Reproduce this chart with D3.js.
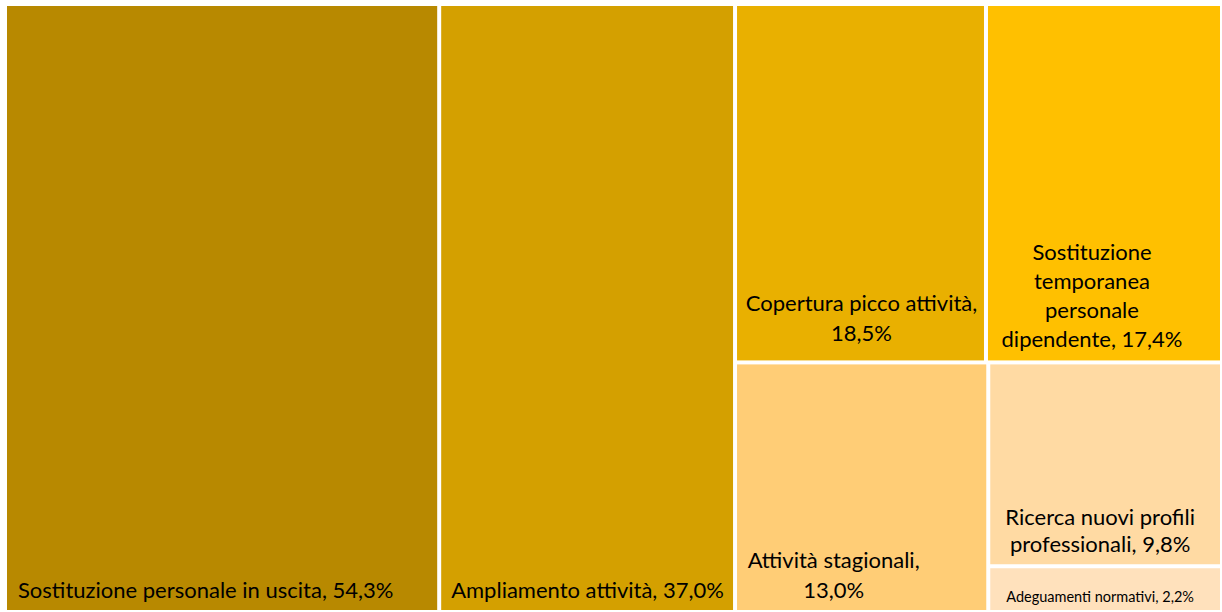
<!DOCTYPE html>
<html>
<head>
<meta charset="utf-8">
<script src="https://cdn.jsdelivr.net/npm/d3@7"></script>
<style>
  html, body { margin: 0; padding: 0; background: #ffffff; }
  svg { display: block; }
  text { font-family: Lato, "Open Sans", sans-serif; fill: #000; }
</style>
</head>
<body>
<svg id="chart" width="1222" height="612"></svg>
<script>
// ---- data ----
const categories = [
  "Sostituzione personale in uscita",
  "Ampliamento attività",
  "Copertura picco attività",
  "Sostituzione temporanea personale dipendente",
  "Attività stagionali",
  "Ricerca nuovi profili professionali",
  "Adeguamenti normativi"
];
const values = [54.3, 37.0, 18.5, 17.4, 13.0, 9.8, 2.2];
const labelLines = [
  ["Sostituzione personale in uscita, 54,3%"],
  ["Ampliamento attività, 37,0%"],
  ["Copertura picco attività,", "18,5%"],
  ["Sostituzione", "temporanea", "personale", "dipendente, 17,4%"],
  ["Attività stagionali,", "13,0%"],
  ["Ricerca nuovi profili", "professionali, 9,8%"],
  ["Adeguamenti normativi, 2,2%"]
];
const colors = ["#B88900", "#D4A000", "#E9B000", "#FFC000", "#FFCD76", "#FFDAA3", "#FFE1BC"];

// grouping structure (indices into categories)
const structure = [0, 1, [[2, 3], [4, [5, 6]]]];

// ---- label styling (layout, not data) ----
const labelStyle = [
  { anchor: "start",  dx: 11,  dy: 12, size: 22,   lh: 30 },
  { anchor: "start",  dx: 10,  dy: 12, size: 22,   lh: 30 },
  { anchor: "middle", dx: 1,   dy: 19, size: 22,   lh: 30 },
  { anchor: "middle", dx: -12, dy: 13, size: 22,   lh: 29.3 },
  { anchor: "middle", dx: -28, dy: 12, size: 22,   lh: 30 },
  { anchor: "middle", dx: -5,  dy: 12, size: 22,   lh: 27.5 },
  { anchor: "middle", dx: -5,  dy: 8,  size: 14.5, lh: 16 }
];

function build(s) {
  if (Array.isArray(s)) return { children: s.map(build) };
  return { idx: s, name: categories[s], value: values[s] };
}

const root = d3.hierarchy(build(structure))
  .sum(d => d.value || 0);

d3.treemap()
  .tile(d3.treemapSliceDice)
  .size([1213, 604])
  .paddingInner(4)
  .round(false)(root);

const svg = d3.select("#chart");
const g = svg.append("g").attr("transform", "translate(7,6)");

const leaves = root.leaves();

const cell = g.selectAll("g.cell")
  .data(leaves)
  .join("g")
  .attr("class", "cell");

cell.append("rect")
  .attr("x", d => d.x0)
  .attr("y", d => d.y0)
  .attr("width", d => d.x1 - d.x0)
  .attr("height", d => d.y1 - d.y0)
  .attr("fill", d => colors[d.data.idx]);

cell.each(function(d) {
  const st = labelStyle[d.data.idx];
  const lines = labelLines[d.data.idx];
  const x = st.anchor === "start" ? d.x0 + st.dx : (d.x0 + d.x1) / 2 + st.dx;
  const lastY = d.y1 - st.dy;
  const t = d3.select(this).append("text")
    .attr("text-anchor", st.anchor)
    .style("font-size", st.size + "px");
  lines.forEach((ln, i) => {
    t.append("tspan")
      .attr("x", x)
      .attr("y", lastY - (lines.length - 1 - i) * st.lh)
      .text(ln);
  });
});
</script>
</body>
</html>
